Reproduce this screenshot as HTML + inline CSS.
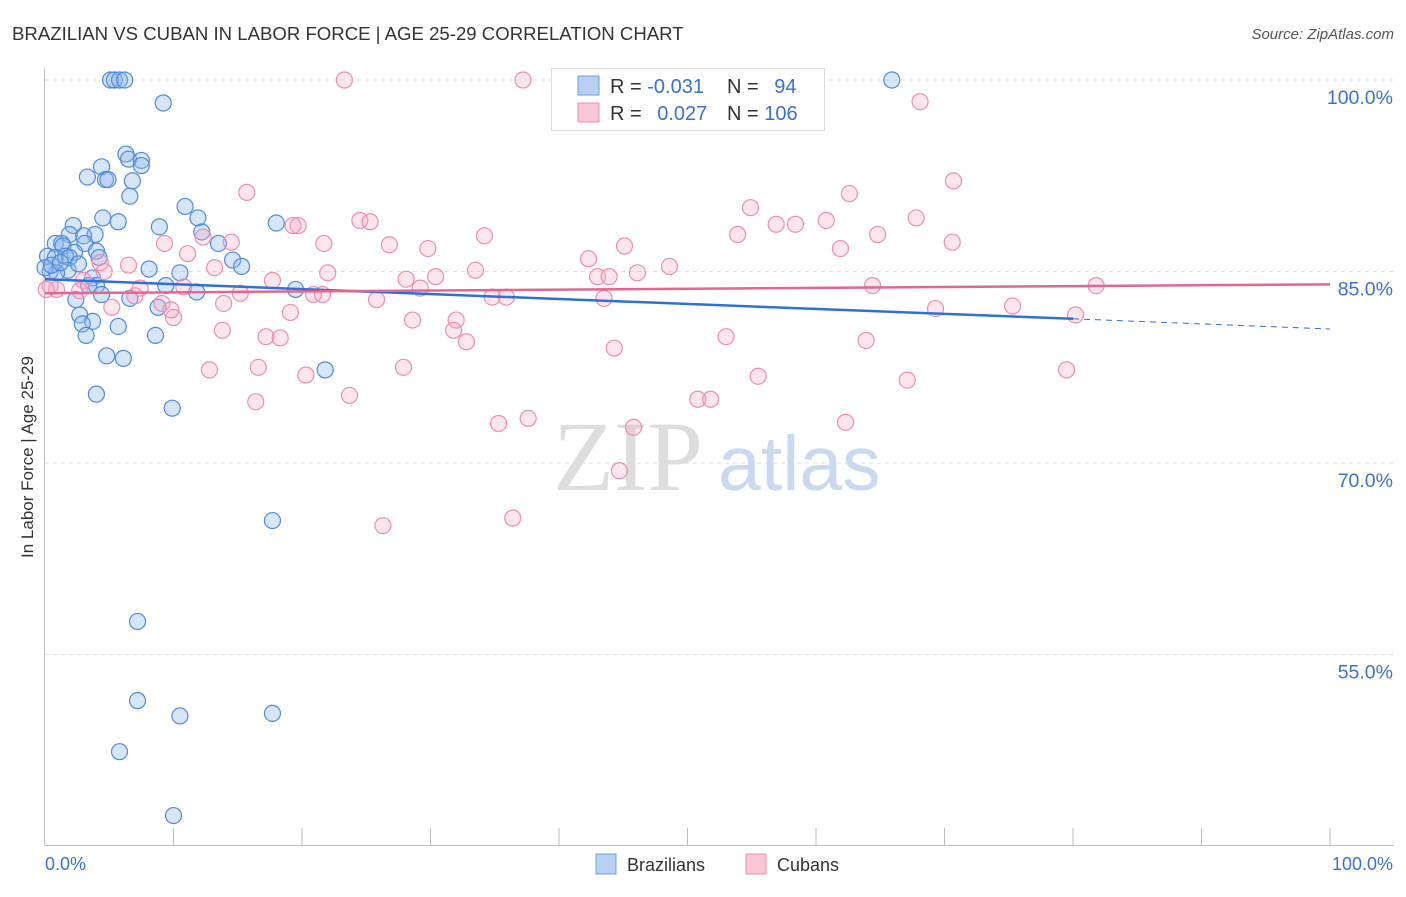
<!DOCTYPE html>
<html><head><meta charset="utf-8"><style>
body{margin:0;background:#fff;font-family:"Liberation Sans",sans-serif;}
svg text{font-family:"Liberation Sans",sans-serif;}
</style></head><body>
<svg id="chart" width="1406" height="892">
<text x="12" y="40" font-size="18.6" fill="#333">BRAZILIAN VS CUBAN IN LABOR FORCE | AGE 25-29 CORRELATION CHART</text>
<text x="1394" y="39" font-size="15" fill="#555" font-style="italic" text-anchor="end">Source: ZipAtlas.com</text>
<text x="33" y="457" font-size="17" fill="#333" text-anchor="middle" transform="rotate(-90 33 457)">In Labor Force | Age 25-29</text>
<g id="grid"></g>
<text x="553" y="490" font-size="100" fill="#ddd" style="font-family:'Liberation Serif',serif">ZIP</text>
<text x="718" y="490" font-size="77" fill="#c9d9f2">atlas</text>
<g id="pts"></g>
<g id="trend"></g>
<g>
<rect x="551.5" y="68.5" width="273" height="62" fill="#fff" stroke="#ddd"/>
<rect x="578" y="76" width="21" height="19" fill="#b8d1f3" stroke="#6e9de0"/>
<rect x="578" y="103" width="21" height="19" fill="#f8c6d5" stroke="#ec8fab"/>
<text x="610" y="93" font-size="20" fill="#333">R = <tspan fill="#3a72d0">-0.031</tspan></text>
<text x="727" y="93" font-size="20" fill="#333">N = <tspan fill="#3a72d0" dx="10">94</tspan></text>
<text x="610" y="120" font-size="20" fill="#333">R = <tspan fill="#3a72d0" dx="10">0.027</tspan></text>
<text x="727" y="120" font-size="20" fill="#333">N = <tspan fill="#3a72d0">106</tspan></text>
</g>
<g>
<rect x="596" y="854" width="20" height="20" fill="#b8d1f3" stroke="#6e9de0"/>
<text x="627" y="871" font-size="18" fill="#333">Brazilians</text>
<rect x="746" y="854" width="20" height="20" fill="#f8c6d5" stroke="#ec8fab"/>
<text x="777" y="871" font-size="18" fill="#333">Cubans</text>
</g>
<text x="45" y="870" font-size="18" fill="#3a72d0">0.0%</text>
<text x="1393" y="870" font-size="18" fill="#3a72d0" text-anchor="end">100.0%</text>
</svg>
<script>
const yTicks=[100,85,70,55];
const yTickLabels=["100.0%","85.0%","70.0%","55.0%"];
const bluePx=[[110,80],[115,80],[120,80],[125,80],[892,80],[163,103],[126,154],[129,159],[141,160],[141,166],[101,167],[88,177],[105,180],[108,180],[133,181],[130,196],[185,207],[198,218],[103,218],[118,222],[160,227],[276,223],[73,226],[202,232],[70,234],[95,234],[83,236],[55,243],[62,243],[85,243],[63,246],[218,244],[97,251],[75,252],[48,256],[55,257],[65,256],[70,258],[99,258],[232,260],[242,266],[149,269],[180,273],[68,270],[50,272],[57,273],[92,278],[96,285],[166,285],[89,285],[101,294],[130,299],[196,292],[296,289],[76,300],[158,307],[80,315],[93,321],[82,324],[118,326],[156,336],[86,335],[107,356],[124,358],[325,370],[96,394],[172,408],[273,520],[137,621],[137,701],[180,716],[272,713],[120,752],[173,815],[45,268],[52,265],[60,262],[78,264]];
const pinkPx=[[344,80],[523,80],[682,80],[920,102],[954,181],[247,193],[849,194],[750,208],[360,220],[370,222],[916,218],[826,220],[776,224],[796,224],[298,225],[293,226],[738,234],[484,236],[203,237],[165,243],[231,242],[324,243],[390,245],[428,249],[625,246],[952,242],[840,249],[878,234],[188,254],[589,259],[100,263],[128,265],[215,268],[476,270],[670,266],[104,271],[328,273],[406,279],[436,277],[598,277],[609,277],[637,273],[272,281],[873,285],[1096,285],[84,280],[140,288],[184,287],[240,293],[420,288],[80,291],[56,290],[135,296],[314,294],[322,294],[492,297],[506,297],[604,299],[376,300],[162,303],[224,303],[112,307],[290,313],[935,309],[1012,306],[1075,315],[173,317],[171,310],[413,320],[456,320],[454,330],[222,330],[466,342],[266,337],[280,338],[726,337],[866,340],[614,348],[404,367],[210,370],[258,367],[306,375],[758,376],[907,380],[1066,370],[350,396],[256,402],[698,399],[711,399],[528,419],[498,423],[846,422],[633,427],[620,471],[383,526],[513,518],[50,285],[46,290]];
const blueX=bluePx.map(p=>+((p[0]-45)/12.85).toFixed(1));
const blueY=bluePx.map(p=>+(100-(p[1]-80)/12.77).toFixed(1));
const pinkX=pinkPx.map(p=>+((p[0]-45)/12.85).toFixed(1));
const pinkY=pinkPx.map(p=>+(100-(p[1]-80)/12.77).toFixed(1));
const blueTrend=[84.4,81.3,80.5];
const pinkTrend=[83.3,84.0];
const NS="http://www.w3.org/2000/svg";
const sx=v=>45+v*12.85, sy=v=>80+(100-v)*12.77;
function mk(t,a,parent){const e=document.createElementNS(NS,t);for(const k in a)e.setAttribute(k,a[k]);parent.appendChild(e);return e;}
const grid=document.getElementById('grid');
yTicks.forEach((t,i)=>{
 const l=mk('line',{x1:45,x2:1394,y1:sy(t),y2:sy(t),stroke:'#ddd','stroke-dasharray':'4,4'},grid);
 
 
 const tx=mk('text',{x:1393,y:sy(t)+24,'font-size':19.5,fill:'#3a72d0','text-anchor':'end'},grid);
 tx.textContent=yTickLabels[i];
 
 
});
const ax=mk('line',{x1:44.5,x2:44.5,y1:68,y2:845,stroke:'#bbb'},grid);


const bx=mk('line',{x1:45,x2:1394,y1:845.5,y2:845.5,stroke:'#bbb'},grid);


for(let i=1;i<=10;i++){const t=mk('line',{x1:sx(i*10),x2:sx(i*10),y1:828,y2:845,stroke:'#bbb'},grid);
 
 }
const pts=document.getElementById('pts');
blueX.forEach((x,i)=>{const c=mk('circle',{cx:sx(x),cy:sy(blueY[i]),r:8,fill:'rgba(140,180,235,0.35)',stroke:'#4f8ae0','stroke-width':1.2},pts);
 
 });
pinkX.forEach((x,i)=>{const c=mk('circle',{cx:sx(x),cy:sy(pinkY[i]),r:8,fill:'rgba(245,170,195,0.3)',stroke:'#ec8fab','stroke-width':1.2},pts);
 
 });
const tr=document.getElementById('trend');
const b1=mk('line',{x1:sx(0),y1:sy(blueTrend[0]),x2:sx(80),y2:sy(blueTrend[1]),stroke:'#2f6fd6','stroke-width':2.5},tr);


const b2=mk('line',{x1:sx(80),y1:sy(blueTrend[1]),x2:sx(100),y2:sy(blueTrend[2]),stroke:'#2f6fd6','stroke-width':1,'stroke-dasharray':'6,5'},tr);


const p1=mk('line',{x1:sx(0),y1:sy(pinkTrend[0]),x2:sx(100),y2:sy(pinkTrend[1]),stroke:'#e2668f','stroke-width':2.5},tr);


</script>
</body></html>
